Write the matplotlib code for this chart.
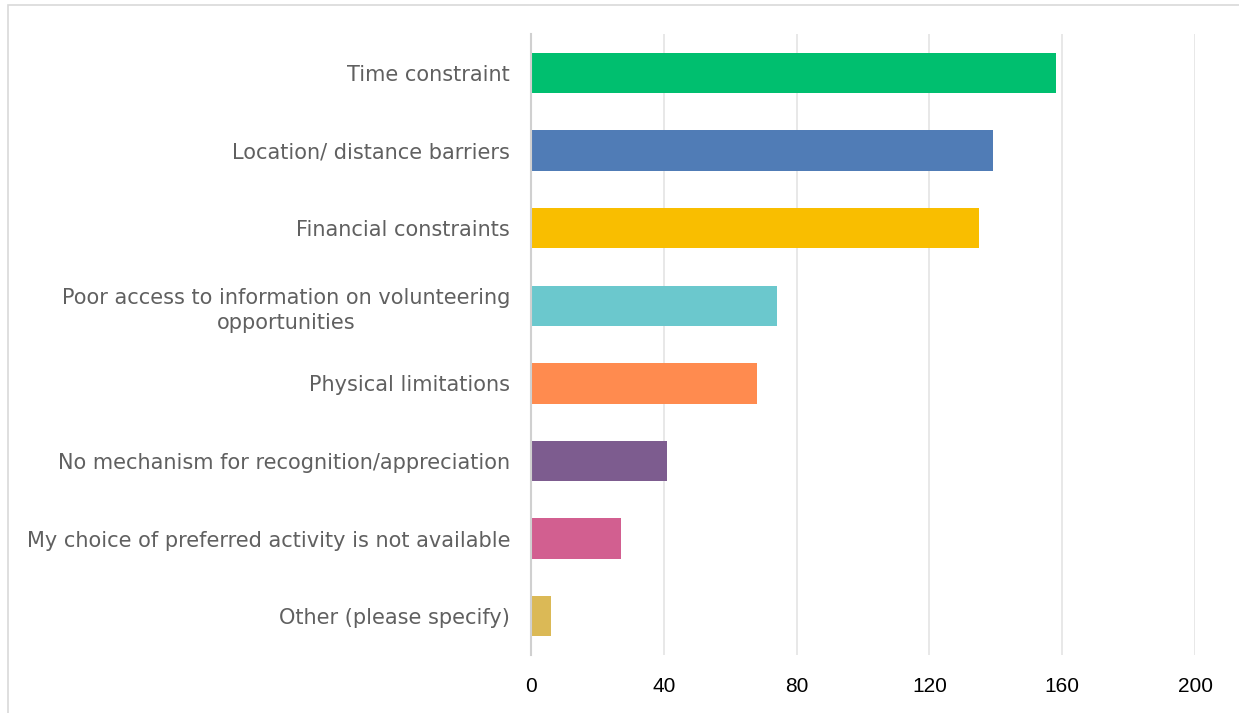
import matplotlib
matplotlib.use('Agg')
import matplotlib.pyplot as plt
from matplotlib.patches import Rectangle

# barriers to volunteering, top to bottom
categories = [
    'Time constraint',
    'Location/ distance barriers',
    'Financial constraints',
    'Poor access to information on volunteering\nopportunities',
    'Physical limitations',
    'No mechanism for recognition/appreciation',
    'My choice of preferred activity is not available',
    'Other (please specify)',
]
counts = [158, 139, 135, 74, 68, 41, 27, 6]
colors = ['#00BF6F', '#507CB6', '#F9BE00', '#6BC8CD',
          '#FF8B4F', '#7D5C8F', '#D25F90', '#DBB956']
x_ticks = [0, 40, 80, 120, 160, 200]

fig = plt.figure(figsize=(12.39, 7.13), dpi=100)
ax = fig.add_axes([0.4286, 0.0813, 0.5359, 0.8707])

pos = list(range(len(categories)))
ax.barh(pos, counts, height=0.52, color=colors, zorder=3)

ax.set_xlim(0, 200)
ax.set_ylim(len(categories) - 0.5, -0.5)
ax.set_xticks(x_ticks)
ax.set_xticklabels([str(t) for t in x_ticks],
                   family=['Liberation Sans Narrow', 'Liberation Sans', 'DejaVu Sans'],
                   fontsize=15, color='#000000')
ax.set_yticks(pos)
ax.set_yticklabels(categories, fontsize=15, color='#606060',
                   family=['DejaVu Sans'], ha='right', multialignment='center',
                   linespacing=1.3)
ax.tick_params(axis='both', length=0)
ax.tick_params(axis='x', pad=16)
ax.tick_params(axis='y', pad=15)

ax.grid(axis='x', color='#E6E6E6', linewidth=1.3, zorder=0)
for s in ['top', 'right', 'bottom']:
    ax.spines[s].set_visible(False)
ax.spines['left'].set_color('#D0D0D0')
ax.spines['left'].set_linewidth(1.5)
ax.spines['left'].set_zorder(4)

# chart frame
fig.patches.append(Rectangle((0.0065, -0.01), 1.2, 1.003, transform=fig.transFigure,
                             fill=False, edgecolor='#D9D9D9', linewidth=1.2))

fig.savefig('out.png', dpi=100)
